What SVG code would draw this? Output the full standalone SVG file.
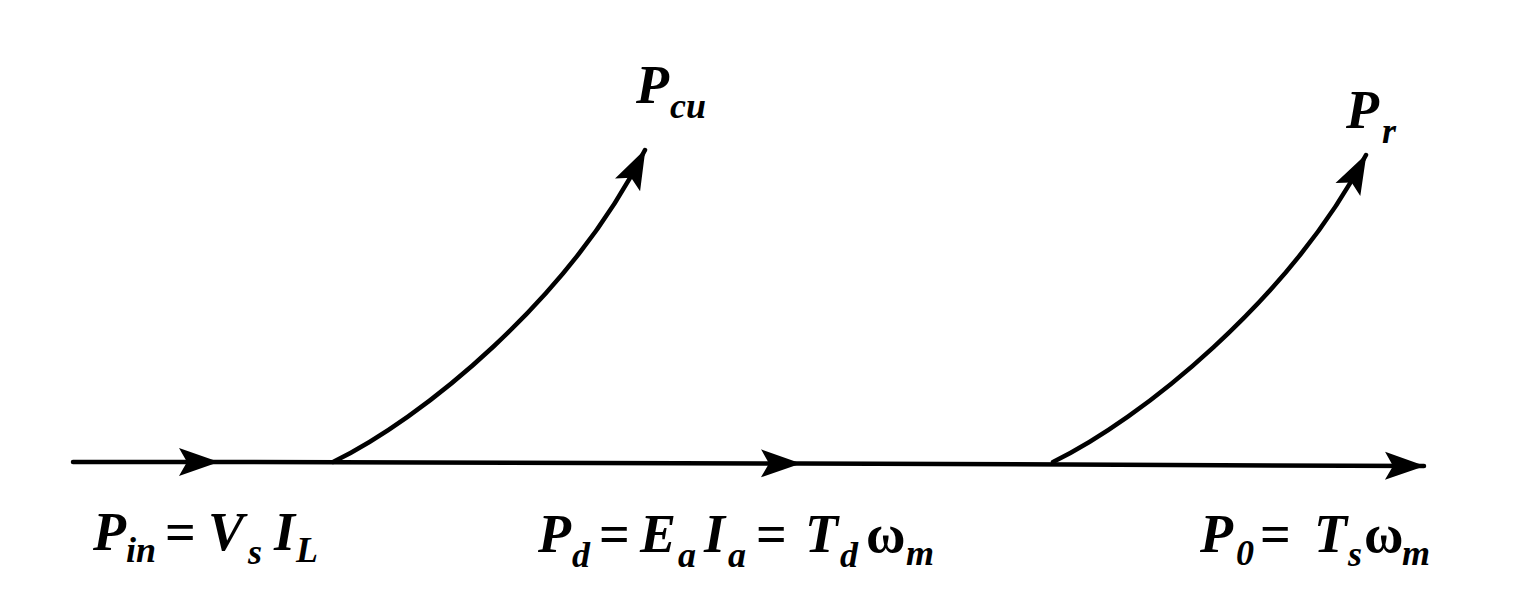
<svg xmlns="http://www.w3.org/2000/svg" width="1526" height="613" viewBox="0 0 1526 613">
<style>
.ln{fill:none;stroke:#000;stroke-width:4.5;stroke-linecap:round}
.t{font-family:"Liberation Serif",serif;font-style:italic;font-weight:bold;font-size:54px;fill:#000}
.s{font-size:36px}
.u{font-style:normal}
</style>
<defs>
<marker id="ah" viewBox="-42 -16 44 32" refX="0" refY="0" markerWidth="44" markerHeight="32" markerUnits="userSpaceOnUse" orient="auto">
<path d="M1,0 L-39,-14 L-31,0 L-39,14 Z" fill="#000"/>
</marker>
</defs>
<rect width="1526" height="613" fill="#fff"/>
<g id="connectors">
<path class="ln" d="M73,462 L218,462 L800,463.5 L1424,466" marker-mid="url(#ah)" marker-end="url(#ah)"/>
<path class="ln" d="M333,462 C420,420 570,300 645,150" marker-end="url(#ah)"/>
<path class="ln" d="M1053,462 C1140,420 1290,300 1366,155" marker-end="url(#ah)"/>
</g>
<g id="node-pcu">
<text class="t" x="636" y="103">P<tspan class="s" x="670" y="118">cu</tspan></text>
</g>
<g id="node-pr">
<text class="t" x="1346" y="128">P<tspan class="s" x="1382" y="143">r</tspan></text>
</g>
<g id="node-pin">
<text class="t" x="93" y="550">P<tspan class="s" x="126" y="562">in</tspan><tspan class="u" x="165" y="550">=</tspan><tspan x="208" y="550">V</tspan><tspan class="s" x="248" y="564">s</tspan><tspan x="274" y="550">I</tspan><tspan class="s" x="296" y="562">L</tspan></text>
</g>
<g id="node-pd">
<text class="t" x="538" y="552">P<tspan class="s" x="572" y="567">d</tspan><tspan class="u" x="599" y="552">=</tspan><tspan x="640" y="552">E</tspan><tspan class="s" x="678" y="567">a</tspan><tspan x="704" y="552">I</tspan><tspan class="s" x="728" y="567">a</tspan><tspan class="u" x="756" y="552">=</tspan><tspan x="805" y="552">T</tspan><tspan class="s" x="840" y="567">d</tspan><tspan class="u" x="866" y="552">ω</tspan><tspan class="s" x="906" y="565">m</tspan></text>
</g>
<g id="node-po">
<text class="t" x="1200" y="552">P<tspan class="s" x="1236" y="565">0</tspan><tspan class="u" x="1260" y="552">=</tspan><tspan x="1314" y="552">T</tspan><tspan class="s" x="1348" y="566">s</tspan><tspan class="u" x="1364" y="552">ω</tspan><tspan class="s" x="1402" y="565">m</tspan></text>
</g>
</svg>
